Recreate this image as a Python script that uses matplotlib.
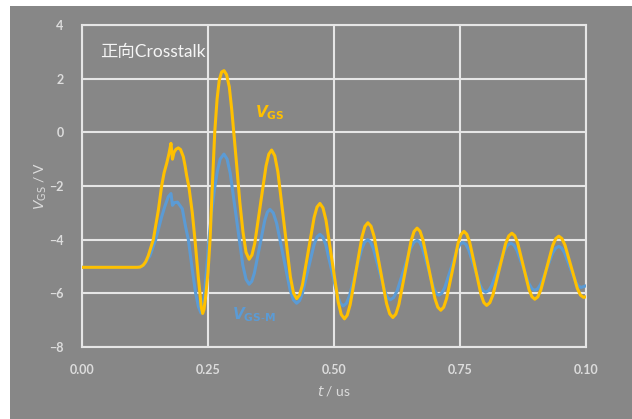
import matplotlib.pyplot as plt
from matplotlib.patches import Rectangle

plt.rcParams['font.family'] = ['Lato', 'Noto Sans CJK SC', 'DejaVu Sans']

# (t in us, V)
vgs_points = [
    (0.000, -5.03), (0.110, -5.03), (0.116, -5.02), (0.122, -4.95), (0.127, -4.82),
    (0.132, -4.6), (0.142, -4.0), (0.152, -2.9), (0.1585, -2.0), (0.1635, -1.5),
    (0.1685, -1.16), (0.173, -0.8), (0.177, -0.41), (0.180, -1.0), (0.183, -0.75),
    (0.187, -0.63), (0.1915, -0.58), (0.196, -0.64), (0.2015, -0.91), (0.205, -1.25),
    (0.208, -1.6), (0.2127, -2.05), (0.2193, -3.0), (0.2246, -4.0), (0.2312, -5.4),
    (0.2345, -6.0), (0.237, -6.5), (0.2398, -6.75), (0.2425, -6.6), (0.2458, -6.12),
    (0.2505, -5.2), (0.2545, -4.0), (0.259, -2.0), (0.2638, 0.0), (0.2685, 1.25),
    (0.2728, 1.95), (0.2775, 2.25), (0.2822, 2.3), (0.2872, 2.15), (0.2926, 1.7),
    (0.2975, 0.85), (0.3025, -0.2), (0.3074, -1.24), (0.3135, -2.6), (0.3197, -3.7),
    (0.3258, -4.47), (0.332, -4.73), (0.3376, -4.575), (0.3432, -4.134), (0.3543, -2.695),
    (0.3655, -1.256), (0.371, -0.815), (0.3766, -0.66), (0.3828, -0.871), (0.389, -1.472),
    (0.4014, -3.43), (0.4138, -5.388), (0.420, -5.989), (0.4262, -6.2), (0.432, -6.065),
    (0.4378, -5.68), (0.4493, -4.425), (0.4609, -3.17), (0.4666, -2.785), (0.4724, -2.65),
    (0.4784, -2.814), (0.4845, -3.28), (0.4965, -4.8), (0.5086, -6.32), (0.5146, -6.786),
    (0.521, -6.95), (0.5265, -6.814), (0.5323, -6.426), (0.5441, -5.16), (0.5558, -3.894),
    (0.5616, -3.506), (0.5675, -3.37), (0.5737, -3.50), (0.5799, -3.887), (0.5923, -5.135),
    (0.6046, -6.383), (0.6108, -6.766), (0.617, -6.9), (0.623, -6.773), (0.629, -6.412),
    (0.641, -5.235), (0.653, -4.058), (0.659, -3.697), (0.665, -3.57), (0.6709, -3.686),
    (0.6768, -4.018), (0.6885, -5.1), (0.7003, -6.182), (0.7061, -6.514), (0.712, -6.63),
    (0.7178, -6.518), (0.7235, -6.199), (0.735, -5.16), (0.7465, -4.121), (0.7523, -3.802),
    (0.758, -3.69), (0.7636, -3.795), (0.7693, -4.094), (0.7805, -5.07), (0.7918, -6.046),
    (0.7974, -6.345), (0.803, -6.45), (0.8093, -6.348), (0.8155, -6.056), (0.828, -5.105),
    (0.8405, -4.154), (0.8468, -3.862), (0.853, -3.76), (0.8587, -3.854), (0.8644, -4.12),
    (0.8758, -4.99), (0.8871, -5.86), (0.8928, -6.126), (0.8985, -6.22), (0.9044, -6.131),
    (0.9104, -5.876), (0.9223, -5.045), (0.9341, -4.214), (0.9401, -3.959), (0.946, -3.87),
    (0.9521, -3.957), (0.9583, -4.204), (0.9705, -5.01), (0.9828, -5.816), (0.9889, -6.063),
    (0.995, -6.15), (1.000, -6.13),
]

vgsm_points = [
    (0.000, -5.03), (0.112, -5.03), (0.119, -5.0), (0.125, -4.9), (0.1354, -4.6),
    (0.1467, -4.0), (0.1585, -3.15), (0.165, -2.75), (0.1717, -2.4), (0.177, -2.28),
    (0.180, -2.72), (0.184, -2.62), (0.190, -2.6), (0.1995, -2.85), (0.206, -3.52),
    (0.2115, -4.0), (0.2193, -5.12), (0.226, -6.0), (0.2315, -6.5), (0.2365, -6.73),
    (0.2395, -6.55), (0.243, -6.12), (0.2477, -5.1), (0.2523, -4.0), (0.2575, -3.0),
    (0.2635, -2.1), (0.269, -1.45), (0.2745, -1.0), (0.282, -0.81), (0.2883, -0.995),
    (0.2945, -1.52), (0.307, -3.235), (0.3195, -4.95), (0.3258, -5.475), (0.332, -5.66),
    (0.3372, -5.554), (0.3423, -5.251), (0.3527, -4.265), (0.363, -3.279), (0.3681, -2.976),
    (0.3733, -2.87), (0.3799, -3.003), (0.3865, -3.383), (0.3998, -4.62), (0.413, -5.857),
    (0.4196, -6.237), (0.4262, -6.37), (0.432, -6.272), (0.4378, -5.994), (0.4493, -5.085),
    (0.4609, -4.176), (0.4666, -3.898), (0.4724, -3.8), (0.4782, -3.902), (0.484, -4.191),
    (0.4955, -5.135), (0.5071, -6.079), (0.5128, -6.368), (0.5186, -6.47), (0.5247, -6.376),
    (0.5307, -6.108), (0.5428, -5.235), (0.5549, -4.362), (0.561, -4.094), (0.567, -4.0),
    (0.5726, -4.085), (0.5783, -4.328), (0.5895, -5.12), (0.6008, -5.912), (0.6064, -6.155),
    (0.612, -6.24), (0.6186, -6.156), (0.6253, -5.915), (0.6385, -5.13), (0.6518, -4.345),
    (0.6584, -4.104), (0.665, -4.02), (0.6704, -4.098), (0.6758, -4.32), (0.6865, -5.045),
    (0.6973, -5.77), (0.7026, -5.992), (0.708, -6.07), (0.714, -5.995), (0.720, -5.781),
    (0.732, -5.085), (0.744, -4.389), (0.750, -4.175), (0.756, -4.1), (0.7616, -4.171),
    (0.7673, -4.372), (0.7785, -5.03), (0.7898, -5.688), (0.7954, -5.889), (0.801, -5.96),
    (0.8073, -5.89), (0.8135, -5.692), (0.826, -5.045), (0.8385, -4.398), (0.8448, -4.2),
    (0.851, -4.13), (0.8569, -4.197), (0.8629, -4.388), (0.8748, -5.01), (0.8866, -5.632),
    (0.8926, -5.823), (0.8985, -5.89), (0.9044, -5.828), (0.9104, -5.65), (0.9223, -5.07),
    (0.9341, -4.49), (0.9401, -4.312), (0.946, -4.25), (0.9515, -4.308), (0.957, -4.474),
    (0.968, -5.015), (0.979, -5.556), (0.9845, -5.722), (0.990, -5.78), (1.000, -5.72),
]

t_gs = [p[0] for p in vgs_points]
v_gs = [p[1] for p in vgs_points]
t_gsm = [p[0] for p in vgsm_points]
v_gsm = [p[1] for p in vgsm_points]

x_ticks = [0.0, 0.25, 0.5, 0.75, 1.0]
x_tick_labels = ['0.00', '0.25', '0.50', '0.75', '0.10']
y_ticks = [-8, -6, -4, -2, 0, 2, 4]

bg = '#878787'
grid_c = '#E6E6E6'
text_c = '#DCDCDC'
orange = '#FFC000'
blue = '#5B9BD5'

fig = plt.figure(figsize=(6.32, 4.19), dpi=100, facecolor='white')
fig.add_artist(Rectangle((10 / 632, 0), 1, 1 - 6 / 419, transform=fig.transFigure,
                         facecolor=bg, edgecolor='none', zorder=-10))
ax = fig.add_axes([81.7 / 632, 1 - 347 / 419, (586 - 81.7) / 632, (347 - 25) / 419])
ax.set_facecolor(bg)

ax.plot(t_gsm, v_gsm, color=blue, lw=2.2, solid_joinstyle='round', zorder=3)
ax.plot(t_gs, v_gs, color=orange, lw=2.2, solid_joinstyle='round', zorder=4)

ax.set_xlim(0, 1.0)
ax.set_ylim(-8, 4)
ax.set_xticks(x_ticks)
ax.set_xticklabels(x_tick_labels)
ax.set_yticks(y_ticks)
ax.grid(True, color=grid_c, lw=1.5)
ax.set_axisbelow(True)
for s in ax.spines.values():
    s.set_color(grid_c)
    s.set_linewidth(1.5)
ax.tick_params(length=0, labelsize=9, labelcolor=text_c)
ax.tick_params(axis='x', pad=12)
ax.tick_params(axis='y', pad=13)
for lab in ax.get_xticklabels() + ax.get_yticklabels():
    lab.set_fontweight('bold')

ax.set_xlabel(r'$\it{t}$ / us', color=text_c, fontsize=10, labelpad=6)
ax.set_ylabel(r'$\it{V}_{\rm GS}$ / V', color=text_c, fontsize=10, labelpad=0)

ax.text(0.036, 0.915, '正向Crosstalk', transform=ax.transAxes, color='#F5F5F5',
        fontsize=12.5, va='center', ha='left')
ax.text(0.344, 0.727, r'$\mathbfit{V}_{\mathbf{GS}}$', transform=ax.transAxes,
        color=orange, fontsize=11, va='center', ha='left')
ax.text(0.298, 0.099, r'$\mathbfit{V}_{\mathbf{GS\text{-}M}}$', transform=ax.transAxes,
        color=blue, fontsize=11, va='center', ha='left')

plt.savefig('out.png', dpi=100, facecolor='white')
